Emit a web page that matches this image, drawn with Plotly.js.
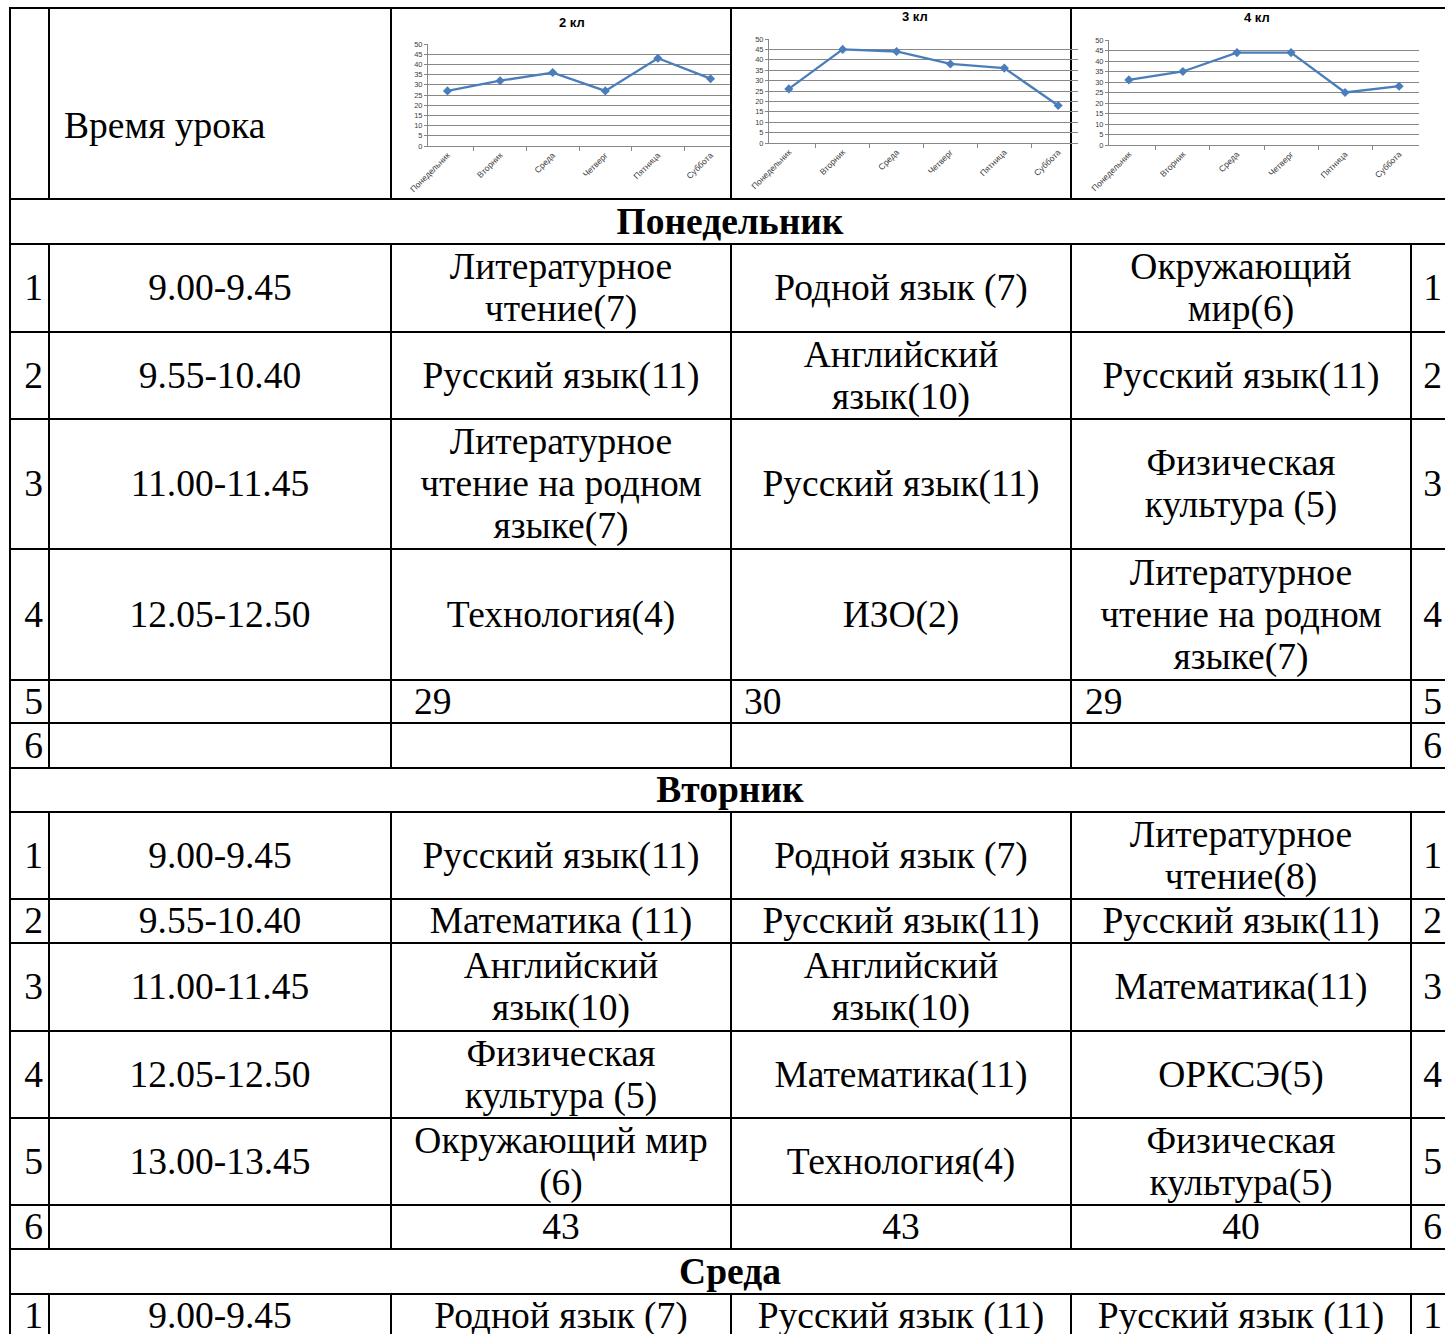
<!DOCTYPE html>
<html>
<head>
<meta charset="utf-8">
<script src="https://cdn.plot.ly/plotly-3.0.1.min.js"></script>
<style>
  html, body { margin:0; padding:0; background:#fff; width:1445px; height:1334px; overflow:hidden; }
  #page { position:absolute; left:0; top:0; width:1445px; height:1334px; overflow:hidden; }
  .cell { position:absolute; box-sizing:border-box; outline:2px solid #000; outline-offset:-1px;
          display:flex; align-items:center; justify-content:center; text-align:center;
          font-family:"Liberation Serif","Times New Roman",serif; font-size:37.5px; line-height:42px;
          color:#000; white-space:pre-line; overflow:visible; }
  #chart { position:absolute; left:0; top:0; width:1445px; height:1334px; z-index:5; pointer-events:none; }
</style>
</head>
<body>
<div id="page"></div>
<div id="chart"></div>
<script>
// ---------- chart data ----------
const classNames = ["2 кл", "3 кл", "4 кл"];
const weekdays = ["Понедельник", "Вторник", "Среда", "Четверг", "Пятница", "Суббота"];
const load2 = [27, 32, 36, 27, 43, 33];
const load3 = [26, 45, 44, 38, 36, 18];
const load4 = [31, 35, 44, 44, 25, 28];

// ---------- table data ----------
const headerTime = "Время урока";
const dayTitles = ["Понедельник", "Вторник", "Среда"];
const monTimes = ["9.00-9.45", "9.55-10.40", "11.00-11.45", "12.05-12.50", "", ""];
const mon2 = ["Литературное\nчтение(7)", "Русский язык(11)", "Литературное\nчтение на родном\nязыке(7)", "Технология(4)", "29", ""];
const mon3 = ["Родной язык (7)", "Английский\nязык(10)", "Русский язык(11)", "ИЗО(2)", "30", ""];
const mon4 = ["Окружающий\nмир(6)", "Русский язык(11)", "Физическая\nкультура (5)", "Литературное\nчтение на родном\nязыке(7)", "29", ""];
const tueTimes = ["9.00-9.45", "9.55-10.40", "11.00-11.45", "12.05-12.50", "13.00-13.45", ""];
const tue2 = ["Русский язык(11)", "Математика (11)", "Английский\nязык(10)", "Физическая\nкультура (5)", "Окружающий мир\n(6)", "43"];
const tue3 = ["Родной язык (7)", "Русский язык(11)", "Английский\nязык(10)", "Математика(11)", "Технология(4)", "43"];
const tue4 = ["Литературное\nчтение(8)", "Русский язык(11)", "Математика(11)", "ОРКСЭ(5)", "Физическая\nкультура(5)", "40"];
const wedTimes = ["9.00-9.45"];
const wed2 = ["Родной язык (7)"];
const wed3 = ["Русский язык (11)"];
const wed4 = ["Русский язык (11)"];

// ---------- layout (positions only) ----------
const colX = [10, 49, 391, 731, 1071, 1411, 1450];
const headerTop = 8, headerH = 191;
const dayRowH = [45, 44, 45];
const lessonRowH = [[88, 87, 130, 131, 43, 45], [87, 44, 88, 87, 87, 44], [44]];

const page = document.getElementById('page');
function cell(x0, x1, y, h, text, extra) {
  const d = document.createElement('div');
  d.className = 'cell';
  d.style.left = x0 + 'px'; d.style.top = y + 'px';
  d.style.width = (x1 - x0) + 'px'; d.style.height = h + 'px';
  d.textContent = text;
  if (extra) Object.assign(d.style, extra);
  page.appendChild(d);
  return d;
}

// header row
cell(colX[0], colX[1], headerTop, headerH, "");
cell(colX[1], colX[2], headerTop, headerH, headerTime, {justifyContent:'flex-start', paddingLeft:'15px', paddingTop:'44px'});
cell(colX[2], colX[3], headerTop, headerH, "");
cell(colX[3], colX[4], headerTop, headerH, "");
cell(colX[4], colX[6], headerTop, headerH, "");

const days = [
  {times: monTimes, c2: mon2, c3: mon3, c4: mon4},
  {times: tueTimes, c2: tue2, c3: tue3, c4: tue4},
  {times: wedTimes, c2: wed2, c3: wed3, c4: wed4}
];
let y = headerTop + headerH;
days.forEach((d, di) => {
  cell(colX[0], colX[6], y, dayRowH[di], dayTitles[di], {fontWeight:'bold'});
  y += dayRowH[di];
  d.times.forEach((t, ri) => {
    const h = lessonRowH[di][ri];
    const num = String(ri + 1);
    cell(colX[0], colX[1], y, h, num, {paddingLeft:'8px'});
    cell(colX[1], colX[2], y, h, t);
    const leftAlign = (di === 0 && ri === 4);
    const vals = [d.c2[ri], d.c3[ri], d.c4[ri]];
    const pads = [23, 13, 14];
    vals.forEach((v, ci) => {
      const ex = leftAlign ? {justifyContent:'flex-start', paddingLeft: pads[ci] + 'px'} : null;
      cell(colX[2 + ci], colX[3 + ci], y, h, v, ex);
    });
    cell(colX[5], colX[6], y, h, num, {paddingLeft:'4px'});
    y += h;
  });
});

// ---------- charts ----------
const W = 1445, H = 1334;
const lineColor = '#4A7EBB';
const gridC = '#878787';
const series = [load2, load3, load4];
const boxes = [
  {x0: 428, x1: 730, y0: 44, y1: 146, tx: 572, ty: 22},
  {x0: 769, x1: 1078, y0: 39, y1: 143, tx: 915, ty: 17},
  {x0: 1109, x1: 1419, y0: 40, y1: 145, tx: 1257, ty: 18}
];
const traces = [];
const layout = {
  width: W, height: H,
  margin: {l: 0, r: 0, t: 0, b: 0},
  paper_bgcolor: 'rgba(0,0,0,0)', plot_bgcolor: 'rgba(0,0,0,0)',
  showlegend: false,
  font: {family: 'Liberation Sans, Arial, sans-serif', color: '#404040'},
  annotations: []
};
series.forEach((vals, i) => {
  const sfx = i === 0 ? '' : String(i + 1);
  traces.push({
    type: 'scatter', mode: 'lines+markers',
    x: weekdays, y: vals,
    xaxis: 'x' + sfx, yaxis: 'y' + sfx,
    line: {color: lineColor, width: 2.3},
    marker: {symbol: 'diamond', size: 7, color: lineColor},
    hoverinfo: 'skip'
  });
  const b = boxes[i];
  layout['xaxis' + sfx] = {
    domain: [b.x0 / W, b.x1 / W], anchor: 'y' + sfx,
    type: 'category', tickson: 'boundaries', ticks: 'outside', ticklen: 4,
    tickcolor: gridC, showline: true, linecolor: gridC, linewidth: 1,
    tickangle: -45, tickfont: {size: 8.5, color: '#404040'},
    showgrid: false, zeroline: false, fixedrange: true
  };
  layout['yaxis' + sfx] = {
    domain: [1 - b.y1 / H, 1 - b.y0 / H], anchor: 'x' + sfx,
    range: [0, 50], dtick: 5, tick0: 0,
    showgrid: true, gridcolor: gridC, gridwidth: 1,
    ticks: 'outside', ticklen: 3, tickcolor: gridC,
    showline: true, linecolor: gridC, linewidth: 1,
    tickfont: {size: 7.5, color: '#404040'}, zeroline: false, fixedrange: true
  };
  layout.annotations.push({
    xref: 'paper', yref: 'paper', x: b.tx / W, y: 1 - b.ty / H,
    xanchor: 'center', yanchor: 'middle', showarrow: false,
    text: '<b>' + classNames[i] + '</b>',
    font: {size: 13, color: '#000', family: 'Liberation Sans, Arial, sans-serif'}
  });
});
Plotly.newPlot('chart', traces, layout, {staticPlot: true, displayModeBar: false});
</script>
</body>
</html>
